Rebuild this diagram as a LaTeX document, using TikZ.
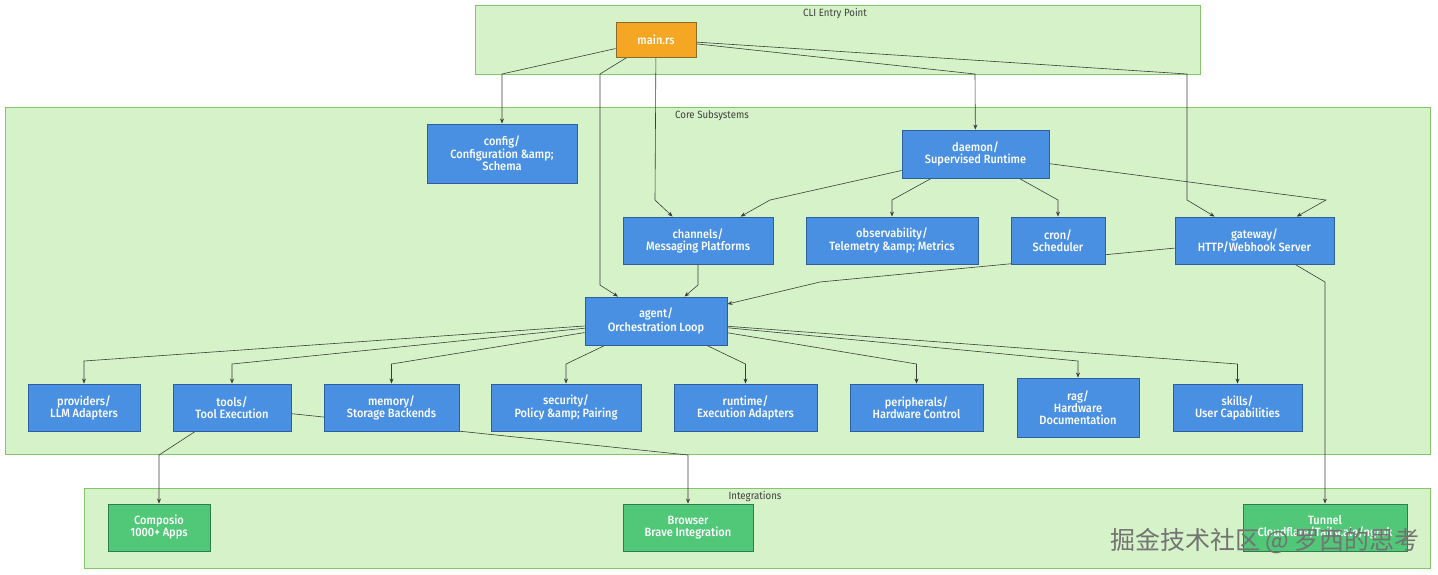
\documentclass[tikz,border=0pt]{standalone}
\usepackage{fontspec}
\setmainfont{Fira Sans}[FakeStretch=0.92,UprightFont=* Medium]
\newfontfamily\labelfont{Fira Sans}[FakeStretch=0.92]
\newfontfamily\cjkfont{Noto Sans CJK SC}
\usetikzlibrary{arrows.meta,backgrounds}
\pgfdeclarelayer{edges}
\pgfsetlayers{background,edges,main}

\definecolor{clfill}{HTML}{D5F2C8}
\definecolor{cldraw}{HTML}{84C46A}
\definecolor{modfill}{HTML}{4A90E2}
\definecolor{moddraw}{HTML}{2D5F9C}
\definecolor{mainfill}{HTML}{F5A623}
\definecolor{maindraw}{HTML}{8B6B2B}
\definecolor{intfill}{HTML}{50C878}
\definecolor{intdraw}{HTML}{2F7D4F}
\definecolor{edgecol}{HTML}{3C3C3C}

\tikzset{
  cluster/.style={fill=clfill,draw=cldraw,line width=0.9pt},
  clusterlabel/.style={font=\labelfont\fontsize{10.5}{11}\selectfont,text=black!75},
  box/.style={text=white,align=center,line width=0.9pt,inner sep=0pt,font=\fontsize{12}{12}\selectfont},
  module/.style={box,draw=moddraw,fill=modfill},
  entry/.style={box,draw=maindraw,fill=mainfill},
  extern/.style={box,draw=intdraw,fill=intfill},
  link/.style={draw=edgecol,line width=0.6pt,-{Stealth[length=5pt,width=4pt]}}
}

\begin{document}
\begin{tikzpicture}[x=1pt,y=-1pt]
  \useasboundingbox (0,0) rectangle (1438,574);

  % groups
  \begin{pgfonlayer}{background}
    \draw[cluster] (475,5) rectangle (1200,74);
    \draw[cluster] (5,107) rectangle (1430,454);
    \draw[cluster] (84,488) rectangle (1430,568);
  \end{pgfonlayer}
  \node[clusterlabel] (cli-lbl) at (835,14) {CLI Entry Point};
  \node[clusterlabel] (core-lbl) at (712,116) {Core Subsystems};
  \node[clusterlabel] (int-lbl) at (755,497) {Integrations};

  % cli
  \node[entry,minimum width=80,minimum height=35] (main) at (656,39.5) {main.rs};

  % core
  \node[module,minimum width=150,minimum height=59] (config) at (502,153.5) {config/\\Configuration \&amp;\\Schema};
  \node[module,minimum width=147,minimum height=48] (daemon) at (975.5,154) {daemon/\\Supervised Runtime};
  \node[module,minimum width=150,minimum height=47] (channels) at (698,240.5) {channels/\\Messaging Platforms};
  \node[module,minimum width=172,minimum height=47] (observability) at (892,240.5) {observability/\\Telemetry \&amp; Metrics};
  \node[module,minimum width=94,minimum height=47] (cron) at (1058,240.5) {cron/\\Scheduler};
  \node[module,minimum width=159,minimum height=47] (gateway) at (1254.5,240.5) {gateway/\\HTTP/Webhook Server};
  \node[module,minimum width=142,minimum height=48] (agent) at (656,321) {agent/\\Orchestration Loop};
  \node[module,minimum width=112,minimum height=47] (providers) at (84,407.5) {providers/\\LLM Adapters};
  \node[module,minimum width=118,minimum height=47] (tools) at (232,407.5) {tools/\\Tool Execution};
  \node[module,minimum width=135,minimum height=47] (memory) at (391.5,407.5) {memory/\\Storage Backends};
  \node[module,minimum width=150,minimum height=47] (security) at (566,407.5) {security/\\Policy \&amp; Pairing};
  \node[module,minimum width=143,minimum height=47] (runtime) at (745.5,407.5) {runtime/\\Execution Adapters};
  \node[module,minimum width=133,minimum height=47] (peripherals) at (916.5,407.5) {peripherals/\\Hardware Control};
  \node[module,minimum width=122,minimum height=59] (rag) at (1078,407.5) {rag/\\Hardware\\Documentation};
  \node[module,minimum width=129,minimum height=47] (skills) at (1237.5,407.5) {skills/\\User Capabilities};

  % integrations
  \node[extern,minimum width=102,minimum height=47] (composio) at (159,527.5) {Composio\\1000+ Apps};
  \node[extern,minimum width=130,minimum height=47] (browser) at (688,527.5) {Browser\\Brave Integration};
  \node[extern,minimum width=164,minimum height=47] (tunnel) at (1325,527.5) {Tunnel\\Cloudflare/Tailscale/ngrok};

  \node[font=\cjkfont\fontsize{25}{26}\selectfont,text=black!55] (mark) at (1265,541) {掘金技术社区 @ 罗西的思考};

  \begin{pgfonlayer}{edges}
    \draw[link] (main) -- (502,74) -- (config);
    \draw[link] (main) -- (600,74) -- (600,285) -- (agent);
    \draw[link] (main) -- (655,200) -- (channels);
    \draw[link] (main) -- (975,74) -- (daemon);
    \draw[link] (main) -- (1187,74) -- (1187,200) -- (gateway);
    \draw[link] (daemon) -- (770,200) -- (channels);
    \draw[link] (daemon) -- (892,200) -- (observability);
    \draw[link] (daemon) -- (1058,200) -- (cron);
    \draw[link] (daemon) -- (1326,200) -- (gateway);
    \draw[link] (channels) -- (698,285) -- (agent);
    \draw[link] (gateway) -- (820,282) -- (agent);
    \draw[link] (gateway) -- (1325,282) -- (tunnel);
    \draw[link] (agent) -- (84,361) -- (providers);
    \draw[link] (agent) -- (232,364) -- (tools);
    \draw[link] (agent) -- (391.5,364) -- (memory);
    \draw[link] (agent) -- (566,364) -- (security);
    \draw[link] (agent) -- (745.5,364) -- (runtime);
    \draw[link] (agent) -- (916.5,364) -- (peripherals);
    \draw[link] (agent) -- (1078,361) -- (rag);
    \draw[link] (agent) -- (1237.5,364) -- (skills);
    \draw[link] (tools) -- (159,455) -- (composio);
    \draw[link] (tools) -- (688,455) -- (browser);
  \end{pgfonlayer}
\end{tikzpicture}
\end{document}
